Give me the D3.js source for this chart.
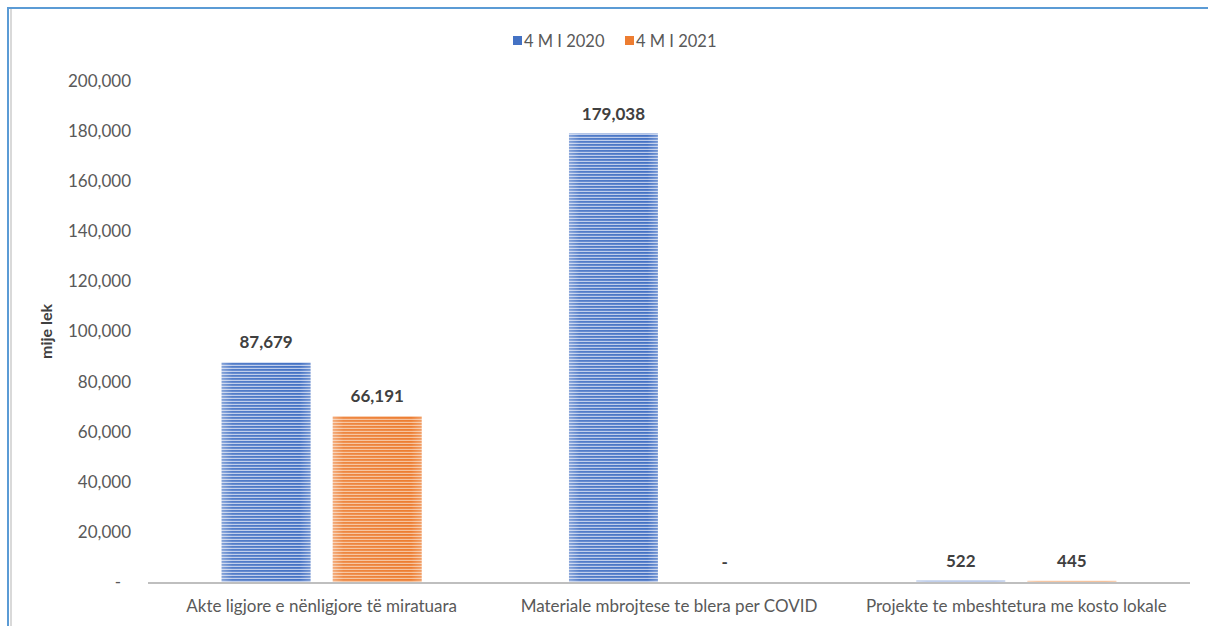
<!DOCTYPE html>
<html><head><meta charset="utf-8">
<script src="https://cdn.jsdelivr.net/npm/d3@7"></script>
<style>body{margin:0;background:#fff}svg{display:block}</style>
</head><body>
<script>
const categories = ["Akte ligjore e nënligjore të miratuara","Materiale mbrojtese te blera per COVID","Projekte te mbeshtetura me kosto lokale"];
const seriesNames = ["4 M I 2020","4 M I 2021"];
const values2020 = [87679, 179038, 522];
const values2021 = [66191, 0, 445];
const yTicks = [0,20000,40000,60000,80000,100000,120000,140000,160000,180000,200000];
const yTitle = "mije lek";

(function(){
const W=1208,H=626;
const font = "Lato, 'Open Sans', sans-serif";
const svg = d3.select("body").append("svg").attr("width",W).attr("height",H);
const defs = svg.append("defs");
function stripe(id, light, dark){
  const p = defs.append("pattern").attr("id",id).attr("patternUnits","userSpaceOnUse").attr("width",3).attr("height",3);
  p.append("rect").attr("width",3).attr("height",3).attr("fill",light);
  p.append("rect").attr("width",3).attr("height",1.8).attr("fill",dark);
}
stripe("pb","#bccbea","#4472c4");
stripe("po","#f6c29c","#ed7d31");
const g = defs.append("linearGradient").attr("id","glow");
g.append("stop").attr("offset","0").attr("stop-color","#fff").attr("stop-opacity",0.35);
g.append("stop").attr("offset","0.12").attr("stop-color","#fff").attr("stop-opacity",0.08);
g.append("stop").attr("offset","0.88").attr("stop-color","#fff").attr("stop-opacity",0.0);
g.append("stop").attr("offset","1").attr("stop-color","#fff").attr("stop-opacity",0.25);

// frame
svg.append("rect").attr("x",10).attr("y",9).attr("width",2).attr("height",H).attr("fill","#d9d9d9");
svg.append("line").attr("x1",8).attr("x2",8).attr("y1",7).attr("y2",H).attr("stroke","#5b9bd5").attr("stroke-width",2);
svg.append("line").attr("x1",7).attr("x2",W).attr("y1",8).attr("y2",8).attr("stroke","#5b9bd5").attr("stroke-width",2);

const pl=148,pr=1190,pt=81,pb=582;
const y = d3.scaleLinear().domain([0,200000]).range([pb,pt]);
const x0 = d3.scaleBand().domain(categories).range([pl,pr]).paddingInner(0.4241).paddingOuter(0.212);
const x1 = d3.scaleBand().domain(seriesNames).range([0,x0.bandwidth()]).paddingInner(0.2);
const fmt = d3.format(",");

// y axis
const ya = svg.append("g").attr("transform",`translate(${131},0)`)
  .call(d3.axisLeft(y).tickValues(yTicks).tickSize(0).tickPadding(0).tickFormat(d=>d===0?"-":fmt(d)));
ya.select(".domain").remove();
ya.selectAll("text").attr("font-family",font).attr("font-size",17).attr("fill","#595959")
  .attr("dx",d=>d===0?-10:0);

svg.append("text").attr("transform",`translate(52,${(pt+pb)/2}) rotate(-90)`)
  .attr("text-anchor","middle").attr("font-family",font).attr("font-size",16).attr("font-weight","bold").attr("fill","#404040").text(yTitle);

// bars
const data = categories.map((c,i)=>({cat:c, vals:[{s:seriesNames[0],v:values2020[i],f:"url(#pb)"},{s:seriesNames[1],v:values2021[i],f:"url(#po)"}]}));
const grp = svg.selectAll("g.cat").data(data).join("g").attr("class","cat").attr("transform",d=>`translate(${x0(d.cat)},0)`);
grp.selectAll("rect.bar").data(d=>d.vals).join("rect").attr("class","bar")
  .attr("x",d=>x1(d.s)).attr("width",x1.bandwidth()).attr("y",d=>y(d.v)).attr("height",d=>pb-y(d.v)).attr("fill",d=>d.f);
grp.selectAll("rect.glow").data(d=>d.vals).join("rect").attr("class","glow")
  .attr("x",d=>x1(d.s)).attr("width",x1.bandwidth()).attr("y",d=>y(d.v)).attr("height",d=>pb-y(d.v)).attr("fill","url(#glow)");
grp.selectAll("text.val").data(d=>d.vals).join("text").attr("class","val")
  .attr("x",d=>x1(d.s)+x1.bandwidth()/2).attr("y",d=>y(d.v)-14).attr("text-anchor","middle")
  .attr("font-family",font).attr("font-size",17).attr("font-weight","bold").attr("fill","#404040")
  .text(d=>d.v===0?"-":fmt(d.v));

// x axis
svg.append("line").attr("x1",pl).attr("x2",pr).attr("y1",pb+1).attr("y2",pb+1).attr("stroke","#bfbfbf").attr("stroke-width",2);
const xa = svg.append("g").attr("transform",`translate(0,${pb})`).call(d3.axisBottom(x0).tickSize(0).tickPadding(18));
xa.select(".domain").remove();
xa.selectAll("text").attr("font-family",font).attr("font-size",17).attr("fill","#595959");

// legend
const leg = [{n:seriesNames[0],c:"#4472c4",x:513},{n:seriesNames[1],c:"#ed7d31",x:625}];
const lg = svg.selectAll("g.leg").data(leg).join("g").attr("class","leg").attr("transform",d=>`translate(${d.x},36)`);
lg.append("rect").attr("width",9).attr("height",9).attr("fill",d=>d.c);
lg.append("text").attr("x",11).attr("y",10.5).attr("font-family",font).attr("font-size",16.5).attr("fill","#595959").text(d=>d.n);
})();
</script>
</body></html>
